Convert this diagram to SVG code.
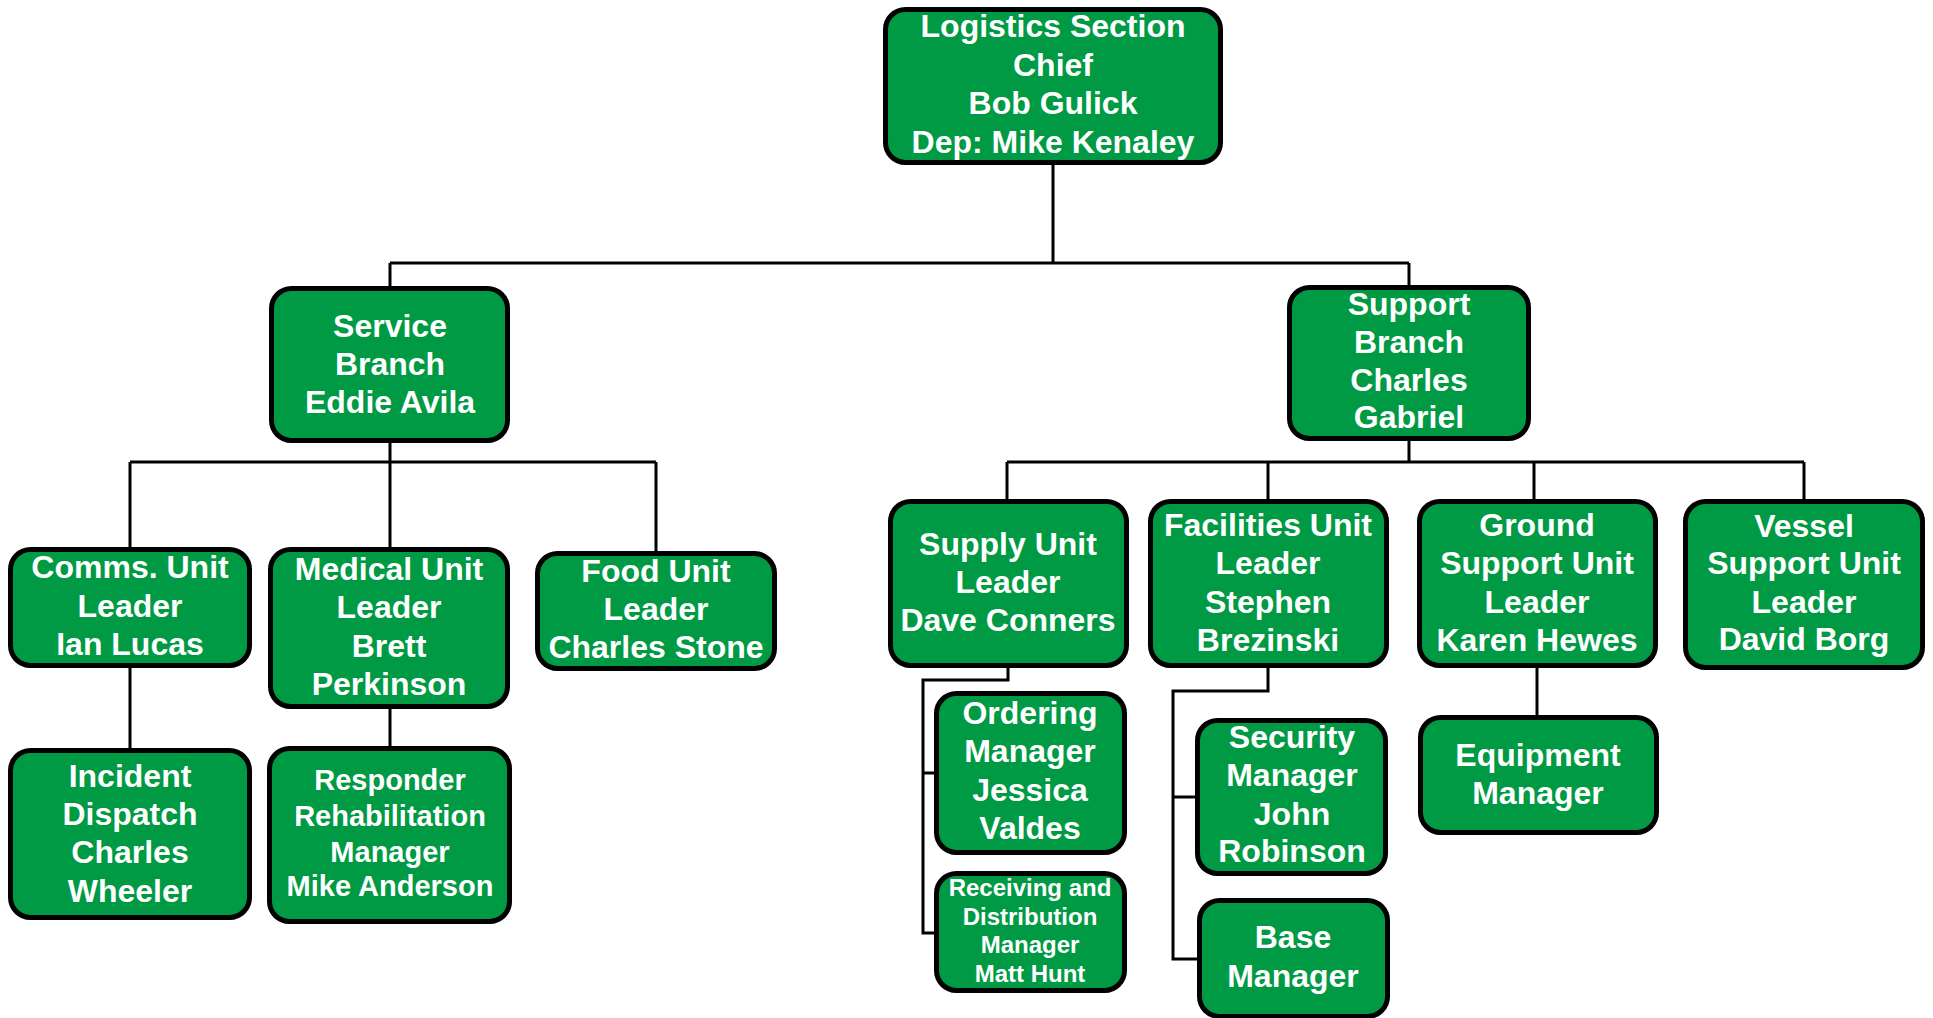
<svg xmlns="http://www.w3.org/2000/svg" width="1933" height="1018" viewBox="0 0 1933 1018">
<style>
.box{fill:#009A44;stroke:#000;stroke-width:5}
.t{font-family:"Liberation Sans",Arial,sans-serif;font-weight:bold;font-size:32px;fill:#fff;text-anchor:middle}
.s29{font-size:29px}
.s24{font-size:24px}
.c{fill:none;stroke:#000;stroke-width:3}
</style>
<rect width="1933" height="1018" fill="#fff"/>
<g id="connectors">
<path class="c" d="M1053,165V263M390,263H1409M390,263V286M1409,263V285"/>
<path class="c" d="M390,443V462M130,462H656M130,462V547M390,462V547M656,462V551"/>
<path class="c" d="M130,668V748M390,709V746"/>
<path class="c" d="M1409,441V462M1007,462H1804M1007,462V499M1268,462V499M1534,462V499M1804,462V499"/>
<path class="c" d="M1008,668V680H923V773H934M923,680V933H934"/>
<path class="c" d="M1268,668V691H1173V797H1195M1173,691V959H1197"/>
<path class="c" d="M1537,668V715"/>
</g>
<g id="logistics-chief"><rect class="box" x="885.5" y="9.5" width="335" height="153" rx="20"/>
<text class="t" x="1053" y="37">Logistics Section</text><text class="t" x="1053" y="76">Chief</text><text class="t" x="1053" y="114">Bob Gulick</text><text class="t" x="1053" y="153">Dep: Mike Kenaley</text></g>
<g id="service-branch"><rect class="box" x="271.5" y="288.5" width="236" height="152" rx="20"/>
<text class="t" x="390" y="337">Service</text><text class="t" x="390" y="375">Branch</text><text class="t" x="390" y="413">Eddie Avila</text></g>
<g id="support-branch"><rect class="box" x="1289.5" y="287.5" width="239" height="151" rx="20"/>
<text class="t" x="1409" y="315">Support</text><text class="t" x="1409" y="353">Branch</text><text class="t" x="1409" y="391">Charles</text><text class="t" x="1409" y="428">Gabriel</text></g>
<g id="comms-unit"><rect class="box" x="10.5" y="549.5" width="239" height="116" rx="20"/>
<text class="t" x="130" y="578">Comms. Unit</text><text class="t" x="130" y="617">Leader</text><text class="t" x="130" y="655">Ian Lucas</text></g>
<g id="medical-unit"><rect class="box" x="270.5" y="549.5" width="237" height="157" rx="20"/>
<text class="t" x="389" y="580">Medical Unit</text><text class="t" x="389" y="618">Leader</text><text class="t" x="389" y="657">Brett</text><text class="t" x="389" y="695">Perkinson</text></g>
<g id="food-unit"><rect class="box" x="537.5" y="553.5" width="237" height="115" rx="20"/>
<text class="t" x="656" y="582">Food Unit</text><text class="t" x="656" y="620">Leader</text><text class="t" x="656" y="658">Charles Stone</text></g>
<g id="incident-dispatch"><rect class="box" x="10.5" y="750.5" width="239" height="167" rx="20"/>
<text class="t" x="130" y="787">Incident</text><text class="t" x="130" y="825">Dispatch</text><text class="t" x="130" y="863">Charles</text><text class="t" x="130" y="902">Wheeler</text></g>
<g id="responder-rehab"><rect class="box" x="269.5" y="748.5" width="240" height="173" rx="20"/>
<text class="t s29" x="390" y="790">Responder</text><text class="t s29" x="390" y="826">Rehabilitation</text><text class="t s29" x="390" y="862">Manager</text><text class="t s29" x="390" y="896">Mike Anderson</text></g>
<g id="supply-unit"><rect class="box" x="890.5" y="501.5" width="236" height="164" rx="20"/>
<text class="t" x="1008" y="555">Supply Unit</text><text class="t" x="1008" y="593">Leader</text><text class="t" x="1008" y="631">Dave Conners</text></g>
<g id="facilities-unit"><rect class="box" x="1150.5" y="501.5" width="236" height="164" rx="20"/>
<text class="t" x="1268" y="536">Facilities Unit</text><text class="t" x="1268" y="574">Leader</text><text class="t" x="1268" y="613">Stephen</text><text class="t" x="1268" y="651">Brezinski</text></g>
<g id="ground-support-unit"><rect class="box" x="1419.5" y="501.5" width="236" height="164" rx="20"/>
<text class="t" x="1537" y="536">Ground</text><text class="t" x="1537" y="574">Support Unit</text><text class="t" x="1537" y="613">Leader</text><text class="t" x="1537" y="651">Karen Hewes</text></g>
<g id="vessel-support-unit"><rect class="box" x="1685.5" y="501.5" width="237" height="166" rx="20"/>
<text class="t" x="1804" y="537">Vessel</text><text class="t" x="1804" y="574">Support Unit</text><text class="t" x="1804" y="613">Leader</text><text class="t" x="1804" y="650">David Borg</text></g>
<g id="ordering-manager"><rect class="box" x="936.5" y="693.5" width="188" height="159" rx="20"/>
<text class="t" x="1030" y="724">Ordering</text><text class="t" x="1030" y="762">Manager</text><text class="t" x="1030" y="801">Jessica</text><text class="t" x="1030" y="839">Valdes</text></g>
<g id="receiving-distribution"><rect class="box" x="936.5" y="873.5" width="188" height="117" rx="20"/>
<text class="t s24" x="1030" y="896">Receiving and</text><text class="t s24" x="1030" y="925">Distribution</text><text class="t s24" x="1030" y="953">Manager</text><text class="t s24" x="1030" y="982">Matt Hunt</text></g>
<g id="security-manager"><rect class="box" x="1197.5" y="720.5" width="188" height="153" rx="20"/>
<text class="t" x="1292" y="748">Security</text><text class="t" x="1292" y="786">Manager</text><text class="t" x="1292" y="825">John</text><text class="t" x="1292" y="862">Robinson</text></g>
<g id="base-manager"><rect class="box" x="1199.5" y="900.5" width="188" height="116" rx="20"/>
<text class="t" x="1293" y="948">Base</text><text class="t" x="1293" y="987">Manager</text></g>
<g id="equipment-manager"><rect class="box" x="1420.5" y="717.5" width="236" height="115" rx="20"/>
<text class="t" x="1538" y="766">Equipment</text><text class="t" x="1538" y="804">Manager</text></g>
</svg>
